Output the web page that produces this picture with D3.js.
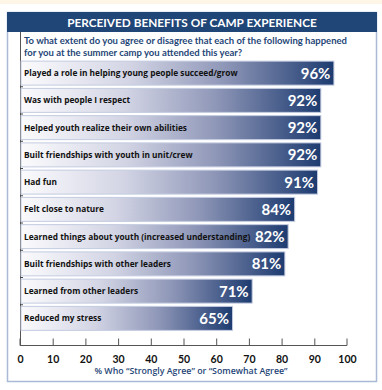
<!DOCTYPE html>
<html><head><meta charset="utf-8">
<script src="https://cdn.jsdelivr.net/npm/d3@7"></script>
<style>html,body{margin:0;padding:0;background:#fff;}svg{display:block;}</style>
</head><body>
<script>
const title = "PERCEIVED BENEFITS OF CAMP EXPERIENCE";
const questionLines = ["To what extent do you agree or disagree that each of the following happened",
                       "for you at the summer camp you attended this year?"];
const categories = ["Played a role in helping young people succeed/grow","Was with people I respect",
  "Helped youth realize their own abilities","Built friendships with youth in unit/crew","Had fun",
  "Felt close to nature","Learned things about youth (increased understanding)",
  "Built friendships with other leaders","Learned from other leaders","Reduced my stress"];
const values = [96,92,92,92,91,84,82,81,71,65];
const tickValues = [0,10,20,30,40,50,60,70,80,90,100];
const axisTitle = "% Who \u201CStrongly Agree\u201D or \u201CSomewhat Agree\u201D";

const W=382,H=390;
const svg=d3.select("body").append("svg").attr("width",W).attr("height",H);
const font="Lato, 'Open Sans', sans-serif";
const font2="'Open Sans', sans-serif";
const navy="#1f4677";

svg.append("rect").attr("x",0).attr("y",0).attr("width",W).attr("height",4).attr("fill","#fdf6e6");
svg.append("rect").attr("x",7.5).attr("y",12.5).attr("width",369).attr("height",369)
  .attr("fill","#fff").attr("stroke","#a9b9d6").attr("stroke-width",1.5);
svg.append("rect").attr("x",7).attr("y",12).attr("width",370).attr("height",20).attr("fill",navy);
svg.append("text").attr("x",192).attr("y",26.5).attr("text-anchor","middle")
  .attr("fill","#fff").attr("font-family",font).attr("font-weight",700).attr("font-size",11.8)
  .text(title);
questionLines.forEach((t,i)=>svg.append("text").attr("x",24).attr("y",44+i*12)
  .attr("fill",navy).attr("font-family",font).attr("font-weight",700).attr("font-size",9.5).text(t));

const x=d3.scaleLinear().domain([0,100]).range([20,347]);
const y=d3.scaleBand().domain(categories).range([59.5,332]).paddingInner(0.12).paddingOuter(0.06);

const defs=svg.append("defs");
const g=defs.append("linearGradient").attr("id","bg").attr("x1","0").attr("x2","1").attr("y1","0").attr("y2","0");
[[0,"#fbfbfd"],[0.35,"#d2d4e4"],[0.65,"#8f97b8"],[1,"#1d3b70"]].forEach(([o,c])=>
  g.append("stop").attr("offset",o).attr("stop-color",c));

svg.append("line").attr("x1",20.5).attr("x2",20.5).attr("y1",32).attr("y2",345.5)
  .attr("stroke","#555").attr("stroke-width",1);

const bars=svg.append("g");
bars.selectAll("rect").data(categories).join("rect")
  .attr("x",x(0)+1).attr("y",d=>y(d)).attr("width",(d,i)=>x(values[i])-x(0)-1)
  .attr("height",y.bandwidth()).attr("fill","url(#bg)").attr("stroke","#c3cbe0").attr("stroke-width",1);
const gap=y.step()*y.paddingInner();
svg.append("g").selectAll("line").data(categories.slice(1)).join("line")
  .attr("x1",20).attr("x2",23).attr("y1",d=>y(d)-gap/2).attr("y2",d=>y(d)-gap/2)
  .attr("stroke","#444").attr("stroke-width",1);

bars.selectAll("text.lab").data(categories).join("text").attr("class","lab")
  .attr("x",24).attr("y",d=>y(d)+y.bandwidth()/2+3).attr("fill","#111")
  .attr("font-family",font2).attr("font-weight",700).attr("font-size",8.3).text(d=>d);
bars.selectAll("text.val").data(categories).join("text").attr("class","val")
  .attr("x",(d,i)=>x(values[i])-3.5).attr("y",d=>y(d)+y.bandwidth()/2+5.5).attr("text-anchor","end")
  .attr("fill","#fff").attr("font-family",font).attr("font-weight",700).attr("font-size",15)
  .text((d,i)=>values[i]+"%");

const ax=svg.append("g").attr("transform","translate(0,345.5)")
  .call(d3.axisBottom(x).tickValues(tickValues).tickSize(-7).tickPadding(10).tickFormat(d3.format("d")));
ax.select(".domain").attr("stroke","#555").attr("d","M20,-7V0H347V-7");
ax.selectAll(".tick line").attr("stroke","#555");
ax.selectAll(".tick text").attr("font-family",font).attr("font-weight",700).attr("font-size",10.5)
  .attr("fill","#111").attr("dy","0.71em");
ax.selectAll(".tick").filter(d=>d===0||d===100).select("line").remove();

svg.append("text").attr("x",191).attr("y",374).attr("text-anchor","middle").attr("fill",navy)
  .attr("font-family",font2).attr("font-weight",600).attr("font-size",8.8).text(axisTitle);
</script>
</body></html>
